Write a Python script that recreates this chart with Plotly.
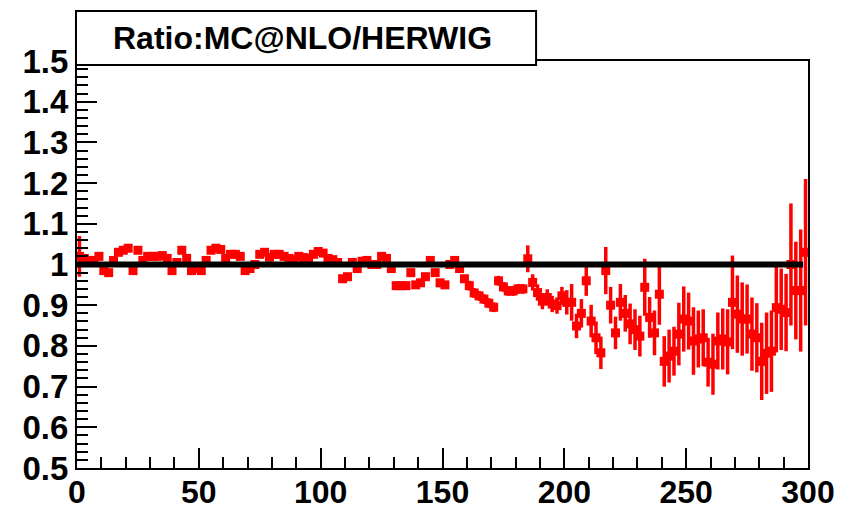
import plotly.graph_objects as go

# Bin centres (bin width 2)
x_centers = list(range(1, 300, 2))

ratio = [
    1.02, 1.015, 1.01, 1.01, 1.02, 0.985, 0.98, 1.01, 1.03, 1.035,
    1.04, 0.985, 1.035, 1.01, 1.02, 1.02, 1.02, 1.022, 1.015, 0.985,
    1.005, 1.035, 1.015, 0.985, 0.99, 0.985, 1.01, 1.035, 1.04, 1.037,
    1.015, 1.025, 1.025, 1.02, 0.985, 0.99, 1.0, 1.025, 1.03, 1.018,
    1.025, 1.025, 1.02, 1.015, 1.012, 1.02, 1.017, 1.015, 1.025, 1.032,
    1.028, 1.015, 1.012, 1.005, 0.965, 0.97, 1.005, 0.99, 1.008, 1.01,
    1.0, 1.0, 1.02, 1.015, 0.99, 0.948, 0.948, 0.948, 0.98, 0.95,
    0.955, 0.97, 1.01, 0.98, 0.955, 0.95, 1.0, 1.01, 0.99, 0.965,
    0.948, 0.93, 0.923, 0.915, 0.905, 0.895, 0.96, 0.945, 0.935, 0.935,
    0.94, 0.94, 1.014, 0.956, 0.931, 0.91, 0.919, 0.903, 0.899, 0.923,
    0.907, 0.907, 0.849, 0.88, 0.96, 0.861, 0.82, 0.783, 0.985, 0.90,
    0.832, 0.907, 0.88, 0.854, 0.84, 0.824, 0.944, 0.87, 0.832, 0.927,
    0.762, 0.775, 0.787, 0.829, 0.866, 0.861, 0.812, 0.817, 0.82, 0.76,
    0.755, 0.812, 0.817, 0.81, 0.907, 0.878, 0.866, 0.866, 0.829, 0.82,
    0.762, 0.782, 0.787, 0.894, 0.89, 0.882, 1.0, 0.936, 0.936, 1.03,
]

ratio_err = (
    [0.05] + [0.006] * 59
    + [0.008] * 20
    + [0.012] * 12
    + [0.033, 0.02, 0.02, 0.02, 0.02, 0.02, 0.02, 0.022]
    + [0.03, 0.045, 0.03, 0.035, 0.037, 0.04, 0.04, 0.04, 0.058, 0.045,
       0.04, 0.045, 0.045, 0.05, 0.05, 0.05, 0.07, 0.05, 0.055, 0.075,
       0.062, 0.065, 0.06, 0.077, 0.08, 0.07, 0.083, 0.07, 0.07, 0.06,
       0.075, 0.07, 0.075, 0.08, 0.115, 0.095, 0.09, 0.085, 0.09, 0.085,
       0.095, 0.1, 0.1, 0.11, 0.1, 0.095, 0.15, 0.12, 0.15, 0.18]
)

ref_x = [0, 298]
ref_y = [1, 1]

x_ticks = [0, 50, 100, 150, 200, 250, 300]
y_ticks = [0.5, 0.6, 0.7, 0.8, 0.9, 1.0, 1.1, 1.2, 1.3, 1.4, 1.5]
y_ticktext = ["0.5", "0.6", "0.7", "0.8", "0.9", "1", "1.1", "1.2", "1.3", "1.4", "1.5"]

title_text = "Ratio:MC@NLO/HERWIG"

FONT = "Liberation Sans, Arial, Helvetica, sans-serif"

fig = go.Figure()
fig.add_trace(go.Scatter(
    x=x_centers, y=ratio, mode="markers",
    marker=dict(symbol="square", size=9, color="#ff0000", line=dict(width=0)),
    error_y=dict(type="data", array=ratio_err, visible=True, color="#ff0000",
                 thickness=3.5, width=0),
    showlegend=False, hoverinfo="x+y",
))
fig.add_trace(go.Scatter(
    x=ref_x, y=ref_y, mode="lines",
    line=dict(color="black", width=6),
    showlegend=False, hoverinfo="skip",
))

fig.update_layout(
    width=847, height=514,
    margin=dict(l=77, r=39, t=61, b=46, autoexpand=False),
    paper_bgcolor="white", plot_bgcolor="white",
    xaxis=dict(
        range=[0, 300], tickvals=x_ticks, ticks="inside", ticklen=20, tickwidth=2,
        tickcolor="black", showline=True, linecolor="black", linewidth=2, mirror=True,
        showgrid=False, zeroline=False, automargin=False, ticklabelstandoff=-5,
        minor=dict(dtick=10, ticks="inside", ticklen=11, tickwidth=2, tickcolor="black", showgrid=False),
        tickfont=dict(family=FONT, size=32, color="black", weight="bold"),
    ),
    yaxis=dict(
        range=[0.5, 1.5], tickvals=y_ticks, ticktext=y_ticktext, ticks="inside",
        ticklen=20, tickwidth=2, tickcolor="black", showline=True, linecolor="black",
        linewidth=2, mirror=True, showgrid=False, zeroline=False, automargin=False,
        minor=dict(dtick=0.02, tick0=0.5, ticks="inside", ticklen=11, tickwidth=2, tickcolor="black", showgrid=False),
        tickfont=dict(family=FONT, size=33, color="black", weight="bold"),
    ),
)

# Title box
fig.add_shape(type="rect", xref="paper", yref="paper",
              x0=-0.0014, x1=0.628, y0=0.990, y1=1.123,
              line=dict(color="black", width=2), fillcolor="white", layer="above")
fig.add_annotation(x=0.3085, y=1.057, xref="paper", yref="paper", text=title_text,
                   showarrow=False, xanchor="center", yanchor="middle",
                   font=dict(family=FONT, size=32, color="black", weight="bold"))

fig.write_html("out.html")
